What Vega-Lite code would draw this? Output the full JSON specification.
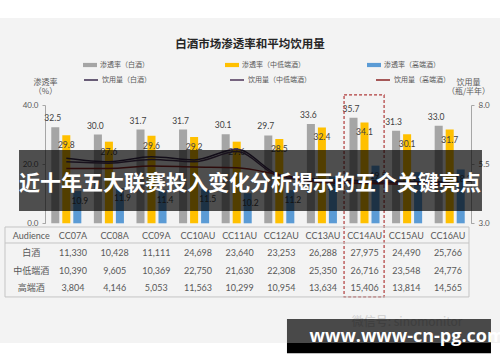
{
  "$schema": "https://vega.github.io/schema/vega-lite/v6.json",
  "width": 500,
  "height": 325,
  "autosize": {"type": "none"},
  "padding": {"top": 18, "bottom": 19, "left": 0, "right": 0},
  "background": "#ffffff",
  "config": {
    "view": {"fill": "#f3f3f3", "stroke": null},
    "font": "Lato, Noto Sans CJK SC, sans-serif"
  },
  "datasets": {
    "bars": [
      {"code": "CC07A", "series": "渗透率（白酒）", "value": 32.5},
      {"code": "CC08A", "series": "渗透率（白酒）", "value": 30.0},
      {"code": "CC09A", "series": "渗透率（白酒）", "value": 31.7},
      {"code": "CC10AU", "series": "渗透率（白酒）", "value": 31.7},
      {"code": "CC11AU", "series": "渗透率（白酒）", "value": 30.1},
      {"code": "CC12AU", "series": "渗透率（白酒）", "value": 29.7},
      {"code": "CC13AU", "series": "渗透率（白酒）", "value": 33.6},
      {"code": "CC14AU", "series": "渗透率（白酒）", "value": 35.7},
      {"code": "CC15AU", "series": "渗透率（白酒）", "value": 31.3},
      {"code": "CC16AU", "series": "渗透率（白酒）", "value": 33.0},
      {"code": "CC07A", "series": "渗透率（中低端酒）", "value": 29.8},
      {"code": "CC08A", "series": "渗透率（中低端酒）", "value": 27.6},
      {"code": "CC09A", "series": "渗透率（中低端酒）", "value": 29.6},
      {"code": "CC10AU", "series": "渗透率（中低端酒）", "value": 29.2},
      {"code": "CC11AU", "series": "渗透率（中低端酒）", "value": 27.6},
      {"code": "CC12AU", "series": "渗透率（中低端酒）", "value": 28.5},
      {"code": "CC13AU", "series": "渗透率（中低端酒）", "value": 32.4},
      {"code": "CC14AU", "series": "渗透率（中低端酒）", "value": 34.1},
      {"code": "CC15AU", "series": "渗透率（中低端酒）", "value": 30.1},
      {"code": "CC16AU", "series": "渗透率（中低端酒）", "value": 31.7},
      {"code": "CC07A", "series": "渗透率（高端酒）", "value": 10.9},
      {"code": "CC08A", "series": "渗透率（高端酒）", "value": 11.9},
      {"code": "CC09A", "series": "渗透率（高端酒）", "value": 11.4},
      {"code": "CC10AU", "series": "渗透率（高端酒）", "value": 11.5},
      {"code": "CC11AU", "series": "渗透率（高端酒）", "value": 10.2},
      {"code": "CC12AU", "series": "渗透率（高端酒）", "value": 11.2},
      {"code": "CC13AU", "series": "渗透率（高端酒）", "value": 15.8},
      {"code": "CC14AU", "series": "渗透率（高端酒）", "value": 19.5},
      {"code": "CC15AU", "series": "渗透率（高端酒）", "value": 17.3},
      {"code": "CC16AU", "series": "渗透率（高端酒）", "value": 18.2}
    ],
    "lines": [
      {"code": "CC07A", "series": "饮用量（白酒）", "value": 5.75},
      {"code": "CC08A", "series": "饮用量（白酒）", "value": 5.6},
      {"code": "CC09A", "series": "饮用量（白酒）", "value": 5.81},
      {"code": "CC10AU", "series": "饮用量（白酒）", "value": 5.68},
      {"code": "CC11AU", "series": "饮用量（白酒）", "value": 6.13},
      {"code": "CC12AU", "series": "饮用量（白酒）", "value": 5.05},
      {"code": "CC13AU", "series": "饮用量（白酒）", "value": 4.85},
      {"code": "CC14AU", "series": "饮用量（白酒）", "value": 4.8},
      {"code": "CC15AU", "series": "饮用量（白酒）", "value": 4.78},
      {"code": "CC16AU", "series": "饮用量（白酒）", "value": 4.75},
      {"code": "CC07A", "series": "饮用量（中低端酒）", "value": 5.6},
      {"code": "CC08A", "series": "饮用量（中低端酒）", "value": 5.54},
      {"code": "CC09A", "series": "饮用量（中低端酒）", "value": 5.7},
      {"code": "CC10AU", "series": "饮用量（中低端酒）", "value": 5.6},
      {"code": "CC11AU", "series": "饮用量（中低端酒）", "value": 6.03},
      {"code": "CC12AU", "series": "饮用量（中低端酒）", "value": 4.98},
      {"code": "CC13AU", "series": "饮用量（中低端酒）", "value": 4.78},
      {"code": "CC14AU", "series": "饮用量（中低端酒）", "value": 4.74},
      {"code": "CC15AU", "series": "饮用量（中低端酒）", "value": 4.72},
      {"code": "CC16AU", "series": "饮用量（中低端酒）", "value": 4.7},
      {"code": "CC07A", "series": "饮用量（高端酒）", "value": 5.32},
      {"code": "CC08A", "series": "饮用量（高端酒）", "value": 5.32},
      {"code": "CC09A", "series": "饮用量（高端酒）", "value": 5.42},
      {"code": "CC10AU", "series": "饮用量（高端酒）", "value": 5.38},
      {"code": "CC11AU", "series": "饮用量（高端酒）", "value": 5.35},
      {"code": "CC12AU", "series": "饮用量（高端酒）", "value": 5.05},
      {"code": "CC13AU", "series": "饮用量（高端酒）", "value": 4.72},
      {"code": "CC14AU", "series": "饮用量（高端酒）", "value": 4.68},
      {"code": "CC15AU", "series": "饮用量（高端酒）", "value": 4.65},
      {"code": "CC16AU", "series": "饮用量（高端酒）", "value": 4.62}
    ],
    "table": [
      {"r": "Audience", "c": "Audience", "t": "Audience"},
      {"r": "Audience", "c": "CC07A", "t": "CC07A"},
      {"r": "Audience", "c": "CC08A", "t": "CC08A"},
      {"r": "Audience", "c": "CC09A", "t": "CC09A"},
      {"r": "Audience", "c": "CC10AU", "t": "CC10AU"},
      {"r": "Audience", "c": "CC11AU", "t": "CC11AU"},
      {"r": "Audience", "c": "CC12AU", "t": "CC12AU"},
      {"r": "Audience", "c": "CC13AU", "t": "CC13AU"},
      {"r": "Audience", "c": "CC14AU", "t": "CC14AU"},
      {"r": "Audience", "c": "CC15AU", "t": "CC15AU"},
      {"r": "Audience", "c": "CC16AU", "t": "CC16AU"},
      {"r": "白酒", "c": "Audience", "t": "白酒"},
      {"r": "白酒", "c": "CC07A", "t": "11,330"},
      {"r": "白酒", "c": "CC08A", "t": "10,428"},
      {"r": "白酒", "c": "CC09A", "t": "11,111"},
      {"r": "白酒", "c": "CC10AU", "t": "24,698"},
      {"r": "白酒", "c": "CC11AU", "t": "23,640"},
      {"r": "白酒", "c": "CC12AU", "t": "23,253"},
      {"r": "白酒", "c": "CC13AU", "t": "26,288"},
      {"r": "白酒", "c": "CC14AU", "t": "27,975"},
      {"r": "白酒", "c": "CC15AU", "t": "24,490"},
      {"r": "白酒", "c": "CC16AU", "t": "25,766"},
      {"r": "中低端酒", "c": "Audience", "t": "中低端酒"},
      {"r": "中低端酒", "c": "CC07A", "t": "10,390"},
      {"r": "中低端酒", "c": "CC08A", "t": "9,605"},
      {"r": "中低端酒", "c": "CC09A", "t": "10,369"},
      {"r": "中低端酒", "c": "CC10AU", "t": "22,750"},
      {"r": "中低端酒", "c": "CC11AU", "t": "21,630"},
      {"r": "中低端酒", "c": "CC12AU", "t": "22,308"},
      {"r": "中低端酒", "c": "CC13AU", "t": "25,350"},
      {"r": "中低端酒", "c": "CC14AU", "t": "26,716"},
      {"r": "中低端酒", "c": "CC15AU", "t": "23,548"},
      {"r": "中低端酒", "c": "CC16AU", "t": "24,776"},
      {"r": "高端酒", "c": "Audience", "t": "高端酒"},
      {"r": "高端酒", "c": "CC07A", "t": "3,804"},
      {"r": "高端酒", "c": "CC08A", "t": "4,146"},
      {"r": "高端酒", "c": "CC09A", "t": "5,053"},
      {"r": "高端酒", "c": "CC10AU", "t": "11,563"},
      {"r": "高端酒", "c": "CC11AU", "t": "10,299"},
      {"r": "高端酒", "c": "CC12AU", "t": "10,954"},
      {"r": "高端酒", "c": "CC13AU", "t": "13,634"},
      {"r": "高端酒", "c": "CC14AU", "t": "15,406"},
      {"r": "高端酒", "c": "CC15AU", "t": "13,814"},
      {"r": "高端酒", "c": "CC16AU", "t": "14,565"}
    ]
  },
  "resolve": {"scale": {"x": "independent", "y": "independent", "xOffset": "independent", "fill": "independent", "stroke": "independent"}},
  "layer": [
    {
      "data": {"name": "bars"},
      "mark": {"type": "bar"},
      "encoding": {
        "x": {"field": "code", "type": "nominal", "scale": {"domain": ["CC07A","CC08A","CC09A","CC10AU","CC11AU","CC12AU","CC13AU","CC14AU","CC15AU","CC16AU"], "range": [45, 471], "paddingInner": 0, "paddingOuter": 0}, "axis": null},
        "xOffset": {"field": "series", "type": "nominal", "scale": {"domain": ["渗透率（白酒）","渗透率（中低端酒）","渗透率（高端酒）"], "paddingInner": 0.27, "paddingOuter": 0.57}},
        "y": {"field": "value", "type": "quantitative", "scale": {"domain": [0, 40], "range": [205.3, 87], "nice": false},
          "axis": {"orient": "left", "offset": -45, "values": [0, 20, 40], "format": ".1f", "grid": false, "domainColor": "#a6a6a6", "tickColor": "#a6a6a6", "tickSize": 3, "labelFontSize": 8, "labelColor": "#595959", "labelPadding": 4,
            "title": ["渗透率", "（%）"], "titleAngle": 0, "titleAlign": "center", "titleBaseline": "top", "titleX": 0, "titleY": 60.5, "titleFontSize": 8, "titleFontWeight": "normal", "titleColor": "#595959", "titleLineHeight": 9, "titleFont": "Noto Sans CJK SC"}},
        "fill": {"field": "series", "type": "nominal", "scale": {"domain": ["渗透率（白酒）","渗透率（中低端酒）","渗透率（高端酒）"], "range": ["#a5a5a5","#ffc000","#5b9bd5"]},
          "legend": {"orient": "none", "legendX": 83, "legendY": 40, "direction": "horizontal", "columns": 3, "gridAlign": "all", "columnPadding": 62, "padding": 0, "title": null, "symbolType": "M-1,-0.3H1V0.3H-1Z", "symbolSize": 196, "symbolStrokeWidth": 0, "labelFontSize": 7, "labelColor": "#595959", "labelOffset": 3, "labelFont": "Noto Sans CJK SC"}}
      }
    },
    {
      "data": {"name": "bars"},
      "transform": [{"filter": "datum.series === '渗透率（白酒）'"}],
      "mark": {"type": "text", "dy": -9, "baseline": "middle", "fontSize": 8.5, "color": "#404040"},
      "encoding": {
        "x": {"field": "code", "type": "nominal", "scale": {"domain": ["CC07A","CC08A","CC09A","CC10AU","CC11AU","CC12AU","CC13AU","CC14AU","CC15AU","CC16AU"], "range": [45, 471], "paddingInner": 0, "paddingOuter": 0}, "axis": null},
        "xOffset": {"field": "series", "type": "nominal", "scale": {"domain": ["渗透率（白酒）","渗透率（中低端酒）","渗透率（高端酒）"], "paddingInner": 0.27, "paddingOuter": 0.57}},
        "y": {"field": "value", "type": "quantitative", "scale": {"domain": [0, 40], "range": [205.3, 87], "nice": false}, "axis": null},
        "text": {"field": "value", "type": "quantitative", "format": ".1f"}
      }
    },
    {
      "data": {"name": "bars"},
      "transform": [{"filter": "datum.series !== '渗透率（白酒）'"}],
      "mark": {"type": "text", "dy": 10, "baseline": "middle", "fontSize": 8.5, "color": "#404040"},
      "encoding": {
        "x": {"field": "code", "type": "nominal", "scale": {"domain": ["CC07A","CC08A","CC09A","CC10AU","CC11AU","CC12AU","CC13AU","CC14AU","CC15AU","CC16AU"], "range": [45, 471], "paddingInner": 0, "paddingOuter": 0}, "axis": null},
        "xOffset": {"field": "series", "type": "nominal", "scale": {"domain": ["渗透率（白酒）","渗透率（中低端酒）","渗透率（高端酒）"], "paddingInner": 0.27, "paddingOuter": 0.57}},
        "y": {"field": "value", "type": "quantitative", "scale": {"domain": [0, 40], "range": [205.3, 87], "nice": false}, "axis": null},
        "text": {"field": "value", "type": "quantitative", "format": ".1f"}
      }
    },
    {
      "data": {"name": "lines"},
      "mark": {"type": "line", "interpolate": "monotone", "strokeWidth": 1.5},
      "encoding": {
        "x": {"field": "code", "type": "nominal", "scale": {"domain": ["CC07A","CC08A","CC09A","CC10AU","CC11AU","CC12AU","CC13AU","CC14AU","CC15AU","CC16AU"], "range": [45, 471], "paddingInner": 0, "paddingOuter": 0}, "axis": null},
        "y": {"field": "value", "type": "quantitative", "scale": {"domain": [3, 8], "range": [205.3, 87], "nice": false, "zero": false},
          "axis": {"orient": "right", "offset": -29, "values": [3, 5.5, 8], "format": ".1f", "grid": false, "domainColor": "#a6a6a6", "tickColor": "#a6a6a6", "tickSize": 3, "labelFontSize": 8, "labelColor": "#595959", "labelPadding": 4,
            "title": ["饮用量", "（瓶/半年）"], "titleAngle": 0, "titleAlign": "center", "titleBaseline": "top", "titleX": -3, "titleY": 60.5, "titleFontSize": 8, "titleFontWeight": "normal", "titleColor": "#595959", "titleLineHeight": 9, "titleFont": "Noto Sans CJK SC"}},
        "stroke": {"field": "series", "type": "nominal", "scale": {"domain": ["饮用量（白酒）","饮用量（中低端酒）","饮用量（高端酒）"], "range": ["#3a2a4c","#4d3558","#8b2424"]},
          "legend": {"orient": "none", "legendX": 83, "legendY": 54, "direction": "horizontal", "columns": 3, "gridAlign": "all", "columnPadding": 62, "padding": 0, "title": null, "symbolType": "stroke", "symbolSize": 196, "symbolStrokeWidth": 1.5, "labelFontSize": 7, "labelColor": "#595959", "labelOffset": 3, "labelFont": "Noto Sans CJK SC"}}
      }
    },
    {
      "data": {"values": [{}]},
      "mark": {"type": "rect", "fill": "transparent", "stroke": "#b03a3a", "strokeWidth": 1.2, "strokeDash": [3, 2]},
      "encoding": {
        "x": {"datum": "CC14AU", "type": "nominal", "bandPosition": 0.02, "scale": {"domain": ["CC07A","CC08A","CC09A","CC10AU","CC11AU","CC12AU","CC13AU","CC14AU","CC15AU","CC16AU"], "range": [45, 471], "paddingInner": 0, "paddingOuter": 0}, "axis": null},
        "x2": {"datum": "CC14AU", "bandPosition": 0.96},
        "y": {"datum": 43.4, "type": "quantitative", "scale": {"domain": [0, 40], "range": [205.3, 87], "nice": false}, "axis": null},
        "y2": {"datum": -24.9}
      }
    },
    {
      "data": {"values": [{}]},
      "mark": {"type": "rect", "fill": "transparent", "stroke": "#c4c4c4", "strokeWidth": 1},
      "encoding": {
        "x": {"datum": "CC07A", "type": "nominal", "bandPosition": -0.939, "scale": {"domain": ["CC07A","CC08A","CC09A","CC10AU","CC11AU","CC12AU","CC13AU","CC14AU","CC15AU","CC16AU"], "range": [45, 471], "paddingInner": 0, "paddingOuter": 0}, "axis": null},
        "x2": {"datum": "CC16AU", "bandPosition": 0.953},
        "y": {"datum": -1.25, "type": "quantitative", "scale": {"domain": [0, 40], "range": [205.3, 87], "nice": false}, "axis": null},
        "y2": {"datum": -24.9}
      }
    },
    {
      "data": {"values": [{}]},
      "mark": {"type": "rule", "stroke": "#c4c4c4", "strokeWidth": 1},
      "encoding": {
        "x": {"datum": "CC07A", "type": "nominal", "bandPosition": -0.939, "scale": {"domain": ["CC07A","CC08A","CC09A","CC10AU","CC11AU","CC12AU","CC13AU","CC14AU","CC15AU","CC16AU"], "range": [45, 471], "paddingInner": 0, "paddingOuter": 0}, "axis": null},
        "x2": {"datum": "CC16AU", "bandPosition": 0.953},
        "y": {"datum": -6.66, "type": "quantitative", "scale": {"domain": [0, 40], "range": [205.3, 87], "nice": false}, "axis": null}
      }
    },
    {
      "data": {"name": "table"},
      "mark": {"type": "text", "fontSize": 9, "color": "#595959", "baseline": "middle"},
      "encoding": {
        "x": {"field": "c", "type": "nominal", "scale": {"domain": ["Audience","CC07A","CC08A","CC09A","CC10AU","CC11AU","CC12AU","CC13AU","CC14AU","CC15AU","CC16AU"], "range": [10.5, 468.8], "paddingInner": 0, "paddingOuter": 0}, "axis": null},
        "y": {"field": "r", "type": "nominal", "scale": {"domain": ["Audience","白酒","中低端酒","高端酒"], "range": [209, 279], "paddingInner": 0, "paddingOuter": 0}, "axis": null},
        "text": {"field": "t", "type": "nominal"}
      }
    },
    {
      "data": {"values": [{}]},
      "mark": {"type": "rect", "fill": "#000000", "opacity": 0.68},
      "encoding": {
        "x": {"datum": "CC07A", "type": "nominal", "bandPosition": -0.61, "scale": {"domain": ["CC07A","CC08A","CC09A","CC10AU","CC11AU","CC12AU","CC13AU","CC14AU","CC15AU","CC16AU"], "range": [45, 471], "paddingInner": 0, "paddingOuter": 0}, "axis": null},
        "x2": {"datum": "CC16AU", "bandPosition": 1.258},
        "y": {"datum": 24.8, "type": "quantitative", "scale": {"domain": [0, 40], "range": [205.3, 87], "nice": false}, "axis": null},
        "y2": {"datum": 4.16}
      }
    },
    {
      "data": {"values": [{}]},
      "mark": {"type": "text", "text": "近十年五大联赛投入变化分析揭示的五个关键亮点", "font": "Noto Sans CJK SC", "fontSize": 21, "fontWeight": "bold", "color": "#ffffff", "baseline": "middle", "align": "center"},
      "encoding": {
        "y": {"datum": 13.3, "type": "quantitative", "scale": {"domain": [0, 40], "range": [205.3, 87], "nice": false}, "axis": null}
      }
    },
    {
      "data": {"values": [{}]},
      "mark": {"type": "text", "text": "白酒市场渗透率和平均饮用量", "font": "Noto Sans CJK SC", "fontSize": 11.5, "fontWeight": "bold", "color": "#262626", "baseline": "middle", "align": "center"},
      "encoding": {
        "y": {"datum": 60.25, "type": "quantitative", "scale": {"domain": [0, 40], "range": [205.3, 87], "nice": false}, "axis": null}
      }
    },
    {
      "data": {"values": [{}]},
      "mark": {"type": "text", "text": "微信号: sinomonitor", "font": "Noto Sans CJK SC", "fontSize": 12, "color": "#cfcfcf", "baseline": "middle", "align": "center"},
      "encoding": {
        "x": {"datum": "CC15AU", "type": "nominal", "bandPosition": 0.73, "scale": {"domain": ["CC07A","CC08A","CC09A","CC10AU","CC11AU","CC12AU","CC13AU","CC14AU","CC15AU","CC16AU"], "range": [45, 471], "paddingInner": 0, "paddingOuter": 0}, "axis": null},
        "y": {"datum": -33.4, "type": "quantitative", "scale": {"domain": [0, 40], "range": [205.3, 87], "nice": false}, "axis": null}
      }
    },
    {
      "data": {"values": [{}]},
      "mark": {"type": "rect", "fill": "#000000", "opacity": 0.7},
      "encoding": {
        "x": {"datum": "CC12AU", "type": "nominal", "bandPosition": 0.68, "scale": {"domain": ["CC07A","CC08A","CC09A","CC10AU","CC11AU","CC12AU","CC13AU","CC14AU","CC15AU","CC16AU"], "range": [45, 471], "paddingInner": 0, "paddingOuter": 0}, "axis": null},
        "x2": {"datum": "CC16AU", "bandPosition": 1.469},
        "y": {"datum": -32.4, "type": "quantitative", "scale": {"domain": [0, 40], "range": [205.3, 87], "nice": false}, "axis": null},
        "y2": {"datum": -40.5}
      }
    },
    {
      "data": {"values": [{}]},
      "mark": {"type": "rect", "fill": "#000000"},
      "encoding": {
        "x": {"datum": "CC12AU", "type": "nominal", "bandPosition": 0.68, "scale": {"domain": ["CC07A","CC08A","CC09A","CC10AU","CC11AU","CC12AU","CC13AU","CC14AU","CC15AU","CC16AU"], "range": [45, 471], "paddingInner": 0, "paddingOuter": 0}, "axis": null},
        "x2": {"datum": "CC16AU", "bandPosition": 1.469},
        "y": {"datum": -40.5, "type": "quantitative", "scale": {"domain": [0, 40], "range": [205.3, 87], "nice": false}, "axis": null},
        "y2": {"datum": -43.9}
      }
    },
    {
      "data": {"values": [{}]},
      "mark": {"type": "text", "text": "www.www-cn-pg.com", "font": "Open Sans", "fontSize": 18, "fontWeight": "bold", "color": "#ffffff", "baseline": "alphabetic", "align": "center"},
      "encoding": {
        "x": {"datum": "CC15AU", "type": "nominal", "bandPosition": 0.05, "scale": {"domain": ["CC07A","CC08A","CC09A","CC10AU","CC11AU","CC12AU","CC13AU","CC14AU","CC15AU","CC16AU"], "range": [45, 471], "paddingInner": 0, "paddingOuter": 0}, "axis": null},
        "y": {"datum": -40.03, "type": "quantitative", "scale": {"domain": [0, 40], "range": [205.3, 87], "nice": false}, "axis": null}
      }
    }
  ]
}
